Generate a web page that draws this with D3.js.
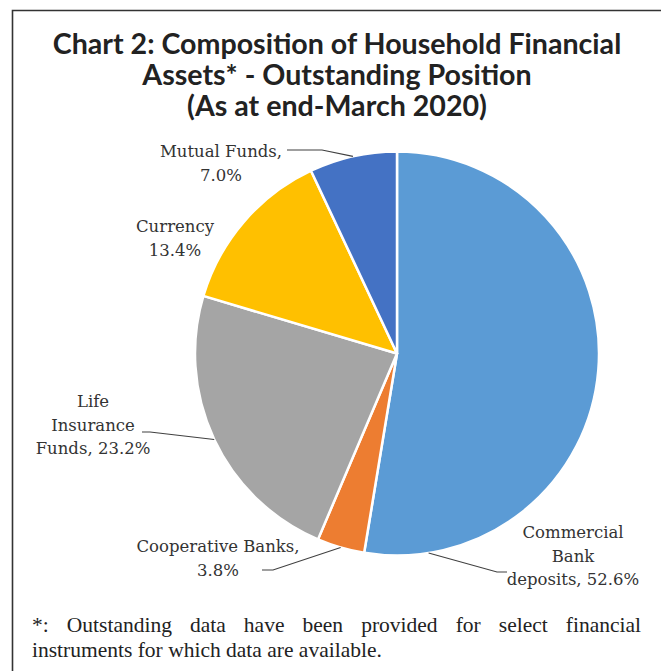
<!DOCTYPE html>
<html>
<head>
<meta charset="utf-8">
<script src="https://cdn.jsdelivr.net/npm/d3@7"></script>
<style>
  html, body { margin: 0; padding: 0; background: #fff; }
  svg { display: block; }
</style>
</head>
<body>
<div id="chart"></div>
<script>
// Composition of household financial assets, end-March 2020 (per cent)
const categories = ["Commercial Bank deposits", "Cooperative Banks", "Life Insurance Funds", "Currency", "Mutual Funds"];
const shares = [52.6, 3.8, 23.2, 13.4, 7.0];
const colors = ["#5B9BD5", "#ED7D31", "#A5A5A5", "#FFC000", "#4472C4"];

const titleLines = ["Chart 2: Composition of Household Financial", "Assets* - Outstanding Position", "(As at end-March 2020)"];
const footnoteLines = ["*: Outstanding data have been provided for select financial", "instruments for which data are available."];

// Label text lines (percentage formatted from the share values)
const fmt = v => d3.format(".1f")(v) + "%";
const labelLines = [
  s => ["Commercial", "Bank", "deposits, " + fmt(s)],
  s => ["Cooperative Banks,", fmt(s)],
  s => ["Life", "Insurance", "Funds, " + fmt(s)],
  s => ["Currency", fmt(s)],
  s => ["Mutual Funds,", fmt(s)]
];

// Label layout: text block centre/first baseline, leader elbow, optional anchor angle on rim
const labelLayout = [
  { x: 573, y: 538, elbow: [[507, 572], [497, 572]], angle: 171 },
  { x: 218, y: 552, elbow: [[262, 570], [273, 570]] },
  { x: 93,  y: 407, elbow: [[142, 432], [150, 432]] },
  { x: 175, y: 232, elbow: null },
  { x: 221, y: 157, elbow: [[287, 150], [322, 150]] }
];

const W = 661, H = 671;
const svg = d3.select("#chart").append("svg").attr("width", W).attr("height", H);

// Frame (runs past the right and bottom edges)
svg.append("path")
  .attr("d", `M12.5,${H + 5} L12.5,10.5 L${W + 5},10.5`)
  .attr("fill", "none").attr("stroke", "#333").attr("stroke-width", 1.6);

// Title
svg.append("g").selectAll("text").data(titleLines).join("text")
  .attr("x", 337).attr("y", (d, i) => 54 + i * 31)
  .attr("text-anchor", "middle")
  .attr("font-family", "Lato, 'Noto Sans', sans-serif")
  .attr("font-weight", "bold").attr("font-size", 28.6)
  .attr("fill", "#222")
  .text(d => d);

// Pie
const cx = 397, cy = 353.5, R = 202;
const pie = d3.pie().sort(null).value(d => d.v);
const arcs = pie(shares.map((v, i) => ({ v, i })));
const arc = d3.arc().innerRadius(0).outerRadius(R);

const g = svg.append("g").attr("transform", `translate(${cx},${cy})`);
g.selectAll("path").data(arcs).join("path")
  .attr("d", arc)
  .attr("fill", d => colors[d.data.i])
  .attr("stroke", "#fff").attr("stroke-width", 2.5)
  .attr("stroke-linejoin", "round");

// Leader lines
const rimPoint = (angleRad) => [cx + R * Math.sin(angleRad), cy - R * Math.cos(angleRad)];
arcs.forEach((a, i) => {
  const lay = labelLayout[i];
  if (!lay.elbow) return;
  const ang = lay.angle != null ? lay.angle * Math.PI / 180 : (a.startAngle + a.endAngle) / 2;
  const pts = [...lay.elbow, rimPoint(ang)];
  svg.append("path")
    .attr("d", d3.line()(pts))
    .attr("fill", "none").attr("stroke", "#404040").attr("stroke-width", 1.1);
});

// Data labels
const labels = svg.append("g")
  .attr("font-family", "'DejaVu Serif', serif")
  .attr("font-size", 16.5).attr("fill", "#333");
arcs.forEach((a, i) => {
  const lay = labelLayout[i];
  const t = labels.append("text").attr("text-anchor", "middle");
  labelLines[i](shares[i]).forEach((line, k) => {
    t.append("tspan").attr("x", lay.x).attr("y", lay.y + k * 23.5).text(line);
  });
});

// Footnote: first line justified between the margins
const foot = svg.append("g")
  .attr("font-family", "'Liberation Serif', serif")
  .attr("font-size", 21.5).attr("fill", "#222");
const f1 = foot.append("text").attr("x", 32).attr("y", 632).text(footnoteLines[0]);
const natural = f1.node().getComputedTextLength();
const gaps = footnoteLines[0].split(" ").length - 1;
f1.attr("word-spacing", Math.max(0, (641 - 32 - natural) / gaps));
foot.append("text").attr("x", 32).attr("y", 657).text(footnoteLines[1]);
</script>
</body>
</html>
